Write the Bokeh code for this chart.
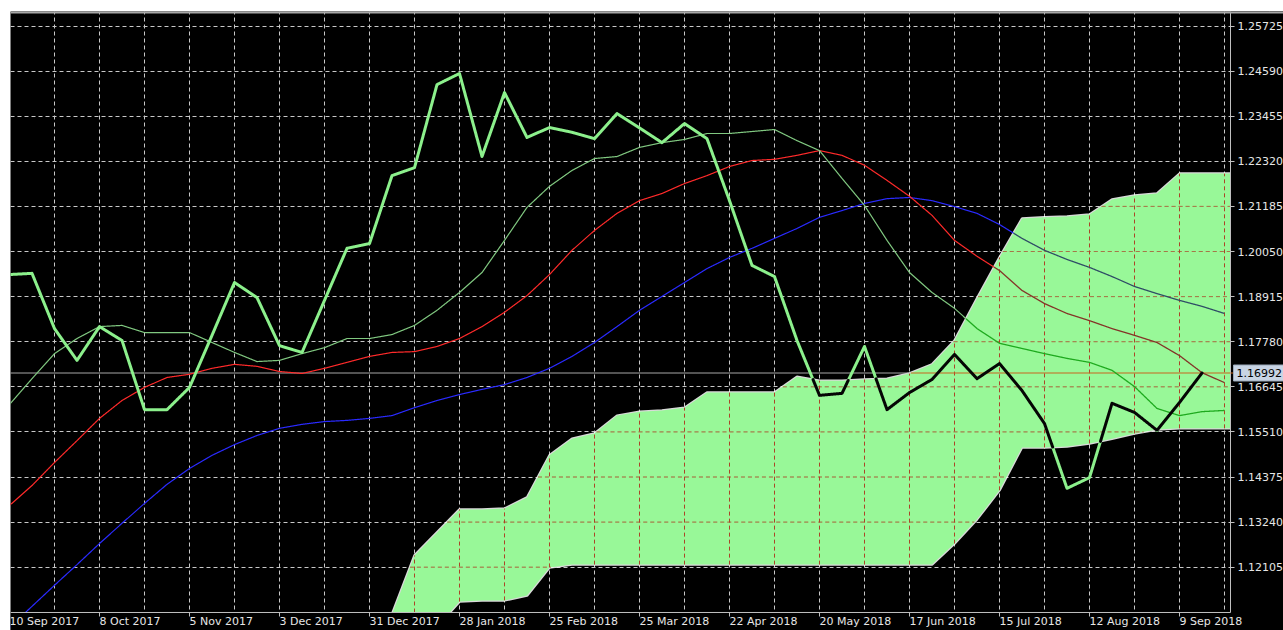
import numpy as np
from bokeh.plotting import figure
from bokeh.models import Range1d, FixedTicker, NumeralTickFormatter, LinearAxis
from bokeh.core.properties import value
from bokeh.embed import file_html
from bokeh.resources import INLINE

# ---------------- data (weekly bars, index 0 = 10 Sep 2017) ----------------
date_labels = ["10 Sep 2017", "8 Oct 2017", "5 Nov 2017", "3 Dec 2017", "31 Dec 2017",
               "28 Jan 2018", "25 Feb 2018", "25 Mar 2018", "22 Apr 2018", "20 May 2018",
               "17 Jun 2018", "15 Jul 2018", "12 Aug 2018", "9 Sep 2018"]
label_weeks = list(range(0, 56, 4))

price_ticks = [1.12105, 1.13240, 1.14375, 1.15510, 1.16645, 1.17780, 1.18915,
               1.20050, 1.21185, 1.22320, 1.23455, 1.24590, 1.25725]
last_price = 1.16992
last_price_text = "1.16992"

close = [1.1947, 1.1950, 1.1811, 1.1731, 1.1816, 1.1781, 1.1607, 1.1607, 1.1663, 1.1794,
         1.1927, 1.1889, 1.1768, 1.1751, 1.1882, 1.2013, 1.2025, 1.2196, 1.2216, 1.2425,
         1.2453, 1.2244, 1.2405, 1.2292, 1.2317, 1.2305, 1.2289, 1.2352, 1.2316, 1.2279,
         1.2327, 1.2289, 1.2133, 1.1970, 1.1942, 1.1781, 1.1643, 1.1648, 1.1766, 1.1607,
         1.1650, 1.1683, 1.1746, 1.1685, 1.1723, 1.1655, 1.1572, 1.1409, 1.1436, 1.1623,
         1.1600, 1.1555, 1.1625, 1.16992]

fast_ma = [1.1620, 1.1685, 1.1748, 1.1786, 1.1816, 1.1819, 1.1801, 1.1801, 1.1801, 1.1776,
           1.1751, 1.1728, 1.1731, 1.1748, 1.1763, 1.1786, 1.1786, 1.1796, 1.1819, 1.1857,
           1.1902, 1.1952, 1.2033, 1.2116, 1.2169, 1.2209, 1.2239, 1.2244, 1.2267, 1.2279,
           1.2287, 1.2302, 1.2302, 1.2307, 1.2312, 1.2284, 1.2259, 1.2189, 1.2121, 1.2033,
           1.1952, 1.1902, 1.1862, 1.1811, 1.1774, 1.1761, 1.1748, 1.1736, 1.1726, 1.1706,
           1.1665, 1.1610, 1.1592, 1.1602, 1.1605]

mid_ma = [1.1366, 1.1416, 1.1474, 1.1529, 1.1585, 1.1630, 1.1663, 1.1688, 1.1696, 1.1711,
          1.1721, 1.1716, 1.1703, 1.1698, 1.1711, 1.1726, 1.1741, 1.1751, 1.1753, 1.1766,
          1.1786, 1.1816, 1.1852, 1.1894, 1.1947, 1.2008, 1.2058, 1.2101, 1.2133, 1.2151,
          1.2176, 1.2196, 1.2219, 1.2234, 1.2237, 1.2247, 1.2259, 1.2247, 1.2222, 1.2184,
          1.2144, 1.2096, 1.2033, 1.1993, 1.1957, 1.1907, 1.1874, 1.1849, 1.1831, 1.1811,
          1.1794, 1.1776, 1.1743, 1.1700, 1.1675]

slow_ma = [1.1059, 1.1112, 1.1165, 1.1217, 1.1270, 1.1321, 1.1371, 1.1419, 1.1459, 1.1492,
           1.1519, 1.1542, 1.1560, 1.1570, 1.1577, 1.1580, 1.1585, 1.1592, 1.1612, 1.1630,
           1.1645, 1.1658, 1.1670, 1.1688, 1.1711, 1.1741, 1.1776, 1.1816, 1.1857, 1.1892,
           1.1927, 1.1962, 1.1990, 1.2013, 1.2038, 1.2063, 1.2091, 1.2108, 1.2126, 1.2138,
           1.2141, 1.2133, 1.2118, 1.2101, 1.2073, 1.2038, 1.2008, 1.1985, 1.1965, 1.1942,
           1.1917, 1.1899, 1.1882, 1.1867, 1.1849]

cloud_start = 17
span_a = [1.1092, 1.1240, 1.1298, 1.1356, 1.1356, 1.1358, 1.1386, 1.1492, 1.1534, 1.1547,
          1.1592, 1.1602, 1.1605, 1.1612, 1.1650, 1.1650, 1.1650, 1.1650, 1.1690, 1.1680,
          1.1680, 1.1683, 1.1685, 1.1698, 1.1721, 1.1781, 1.1887, 1.1990, 1.2088, 1.2091,
          1.2093, 1.2098, 1.2136, 1.2146, 1.2151, 1.2201, 1.2201, 1.2201, 1.2201]
span_b = [1.0976, 1.1026, 1.1061, 1.1124, 1.1127, 1.1127, 1.1139, 1.1210, 1.1217, 1.1217,
          1.1217, 1.1217, 1.1217, 1.1217, 1.1217, 1.1217, 1.1217, 1.1217, 1.1217, 1.1217,
          1.1217, 1.1217, 1.1217, 1.1217, 1.1217, 1.1270, 1.1331, 1.1404, 1.1512, 1.1512,
          1.1514, 1.1522, 1.1534, 1.1547, 1.1557, 1.1560, 1.1560, 1.1560, 1.1560]

# ---------------- layout constants ----------------
FRAME_W, FRAME_H = 1273, 619
X_MIN, X_MAX = 0.0444, 56.6222      # frame edges (weeks)
X_BORDER = 54.2667                   # right border of the price area
Y_TOP, Y_BOT = 1.26090, 1.10512      # frame edges (price)
Y_AXIS = 1.10965                     # bottom border of the price area
UPP = (Y_TOP - Y_BOT) / FRAME_H      # price units per pixel
XPP = (X_MAX - X_MIN) / FRAME_W      # weeks per pixel

cloud_x = np.arange(cloud_start, cloud_start + len(span_a), dtype=float)


def in_cloud(x, y):
    lo = np.interp(x, cloud_x, span_b)
    hi = np.interp(x, cloud_x, span_a)
    return (x >= cloud_x[0]) & (x <= cloud_x[-1]) & (y >= lo) & (y <= hi)


def split_runs(xv, yv, n=80):
    xv = np.asarray(xv, float)
    yv = np.asarray(yv, float)
    t = np.linspace(0.0, 1.0, n, endpoint=False)
    px = np.concatenate([xv[k] + t * (xv[k + 1] - xv[k]) for k in range(len(xv) - 1)] + [xv[-1:]])
    py = np.concatenate([yv[k] + t * (yv[k + 1] - yv[k]) for k in range(len(yv) - 1)] + [yv[-1:]])
    state = in_cloud((px[:-1] + px[1:]) / 2, (py[:-1] + py[1:]) / 2)
    runs = {True: ([], []), False: ([], [])}
    start = 0
    for j in range(1, len(state) + 1):
        if j == len(state) or state[j] != state[start]:
            key = bool(state[start])
            runs[key][0].append(px[start:j + 1].tolist())
            runs[key][1].append(py[start:j + 1].tolist())
            start = j
    return runs


# ---------------- figure ----------------
p = figure(frame_width=FRAME_W, frame_height=FRAME_H,
           x_range=Range1d(X_MIN, X_MAX), y_range=Range1d(Y_BOT, Y_TOP),
           output_backend="svg", toolbar_location=None,
           x_axis_location=None, y_axis_location=None,
           min_border_left=10, min_border_top=11, min_border_bottom=0, min_border_right=0)
p.background_fill_color = "black"
p.border_fill_color = "white"
p.outline_line_color = None

# grid (white dashed)
p.xgrid.ticker = FixedTicker(ticks=list(range(2, 58, 2)))
p.ygrid.ticker = FixedTicker(ticks=price_ticks)
for g in (p.xgrid, p.ygrid):
    g.grid_line_color = "#c8c8c8"
    g.grid_line_dash = "4 3"
    g.grid_line_width = 1

# cloud: halo edges, then fill
p.line(cloud_x, span_a, line_color="#ffffff", line_width=2.5, line_alpha=0.85)
p.line(cloud_x, span_b, line_color="#ffffff", line_width=2.5, line_alpha=0.85)
p.varea(x=cloud_x, y1=span_b, y2=span_a, fill_color="#98f898")

# grid lines inside the cloud (brown dashed)
gx, gy = [], []
for t in price_ticks:
    r = split_runs([X_MIN, X_BORDER], [t, t], n=3000)
    gx += r[True][0]
    gy += r[True][1]
p.multi_line(xs=gx, ys=gy, line_color="#ac4428", line_dash="4 3", line_width=1)
vg = [g for g in range(2, 56, 2) if cloud_x[0] <= g <= cloud_x[-1]]
p.segment(x0=vg, y0=np.interp(vg, cloud_x, span_b), x1=vg, y1=np.interp(vg, cloud_x, span_a),
          line_color="#ac4428", line_dash="4 3", line_width=1)

# current price line
r = split_runs([X_MIN, X_BORDER], [last_price, last_price], n=3000)
p.multi_line(xs=r[False][0], ys=r[False][1], line_color="#c8c8c8", line_width=1)
p.multi_line(xs=r[True][0], ys=r[True][1], line_color="#c8641e", line_width=1.2)

# moving averages (colour changes inside the cloud)
for series, c_out, c_in in [(slow_ma, "#2a2aff", "#2f4d66"),
                            (mid_ma, "#ff2a2a", "#843428"),
                            (fast_ma, "#80c880", "#1eaa1e")]:
    xs_ = np.arange(len(series), dtype=float)
    r = split_runs(xs_, series)
    p.multi_line(xs=r[False][0], ys=r[False][1], line_color=c_out, line_width=1.2)
    p.multi_line(xs=r[True][0], ys=r[True][1], line_color=c_in, line_width=1.3)

# price line (thick)
r = split_runs(np.arange(len(close), dtype=float), close)
p.multi_line(xs=r[False][0], ys=r[False][1], line_color="#8cf08c", line_width=3,
             line_join="round", line_cap="round")
p.multi_line(xs=r[True][0], ys=r[True][1], line_color="#050505", line_width=3,
             line_join="round", line_cap="round")

# masks for the axis strips (right price scale, bottom time scale)
p.quad(left=[X_MIN, X_BORDER], right=[X_MAX, X_MAX], bottom=[Y_BOT, Y_BOT],
       top=[Y_AXIS, Y_TOP], fill_color="black", line_color=None)

# borders of the price area
p.segment(x0=[X_MIN, X_BORDER, X_MIN], y0=[Y_AXIS, Y_AXIS, Y_TOP - UPP],
          x1=[X_BORDER, X_BORDER, X_MAX], y1=[Y_AXIS, Y_TOP, Y_TOP - UPP],
          line_color=["#c0c0c0", "#c0c0c0", "#a8a8a8"], line_width=[1, 1, 2])

# time scale: tick marks and left-aligned date labels
p.segment(x0=label_weeks, y0=[Y_AXIS] * len(label_weeks),
          x1=label_weeks, y1=[Y_AXIS - 4 * UPP] * len(label_weeks),
          line_color="#c0c0c0", line_width=1)
p.text(x=label_weeks, y=[Y_AXIS - 3 * UPP] * len(label_weeks), text=date_labels,
       text_align="left", text_baseline="top", text_color="#e6e6e6",
       text_font=value("DejaVu Sans"), text_font_size=value("11px"))

# current price tag on the price scale
p.segment(x0=[X_BORDER], y0=[last_price], x1=[X_BORDER + 3 * XPP], y1=[last_price],
          line_color="#c8641e", line_width=1)
p.quad(left=[X_BORDER + 3 * XPP], right=[X_MAX], bottom=[last_price - 8 * UPP],
       top=[last_price + 8 * UPP], fill_color="#c8d4e4", line_color="#9aa8b8")
p.text(x=[X_BORDER + 6 * XPP], y=[last_price], text=[last_price_text],
       text_align="left", text_baseline="middle", text_color="black",
       text_font=value("DejaVu Sans"), text_font_size=value("11px"))

# price scale (real axis, drawn at the right border of the price area)
ax = LinearAxis(fixed_location=X_BORDER, ticker=FixedTicker(ticks=price_ticks),
                formatter=NumeralTickFormatter(format="0.00000"))
ax.major_tick_out = 4
ax.major_tick_in = 0
ax.minor_tick_line_color = None
ax.axis_line_color = None
ax.major_tick_line_color = "#c0c0c0"
ax.major_label_standoff = 3
ax.major_label_text_color = "#e6e6e6"
ax.major_label_text_font = "DejaVu Sans"
ax.major_label_text_font_size = "11px"
p.add_layout(ax, "right")

open("out.html", "w").write(file_html(p, INLINE))
